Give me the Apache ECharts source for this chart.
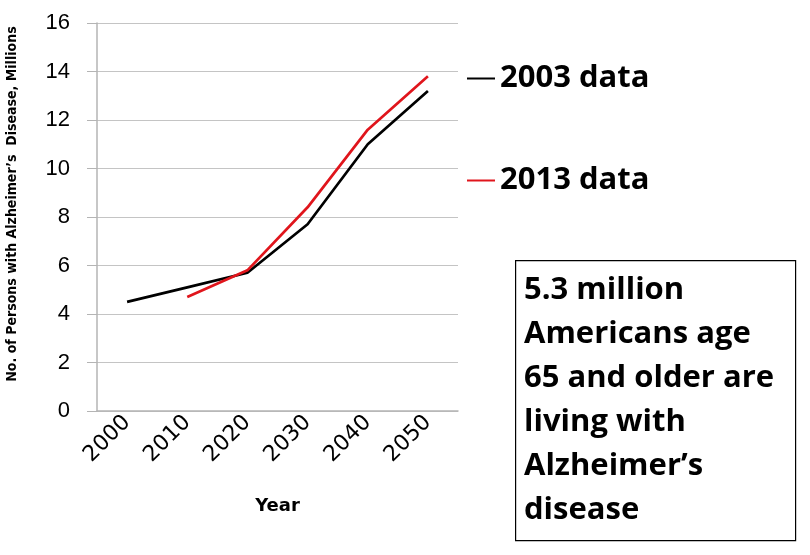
<!DOCTYPE html>
<html><head><meta charset="utf-8">
<script src="https://cdn.jsdelivr.net/npm/echarts@6/dist/echarts.min.js"></script>
<style>html,body{margin:0;padding:0;background:#fff}#c{width:810px;height:555px}</style>
</head><body><div id="c"></div>
<script>
const years = ['2000','2010','2020','2030','2040','2050'];
const data2003 = [4.5, 5.1, 5.7, 7.7, 11.0, 13.2];
const data2013 = [null, 4.7, 5.8, 8.4, 11.6, 13.8];
const yTicks = {min: 0, max: 16, interval: 2};
const boxLines = ['5.3 million', 'Americans age', '65 and older are', 'living with', 'Alzheimer\u2019s', 'disease'];

const chart = echarts.init(document.getElementById('c'));
const legendText = {fontFamily: 'Open Sans', fontWeight: 'bold', fontSize: 31, color: '#000'};
chart.setOption({
  animation: false,
  backgroundColor: '#fff',
  grid: {left: 97, right: 352, top: 23, bottom: 144},
  legend: [
    {data: ['2003 data'], icon: 'rect', left: 462, top: 58, itemWidth: 28, itemHeight: 2, textStyle: legendText},
    {data: ['2013 data'], icon: 'rect', left: 462, top: 160, itemWidth: 28, itemHeight: 2, textStyle: legendText}
  ],
  xAxis: {
    type: 'category', data: years, boundaryGap: true,
    name: 'Year', nameLocation: 'middle', nameGap: 86,
    nameTextStyle: {fontFamily: 'DejaVu Sans', fontWeight: 'bold', fontSize: 18, color: '#000'},
    axisLine: {lineStyle: {color: '#b4b4b4', width: 1.5}},
    axisTick: {show: false},
    axisLabel: {rotate: 45, fontFamily: 'DejaVu Sans', fontSize: 22, color: '#000', margin: 8}
  },
  yAxis: {
    type: 'value', min: yTicks.min, max: yTicks.max, interval: yTicks.interval,
    name: 'No. of Persons with Alzheimer\u2019s  Disease, Millions', nameLocation: 'middle', nameGap: 78,
    nameTextStyle: {fontFamily: 'DejaVu Sans Condensed, Roboto, sans-serif', fontWeight: 'bold', fontSize: 14, color: '#000', padding: [0, 0, 0, 26]},
    axisLine: {show: true, lineStyle: {color: '#b4b4b4', width: 1.5}},
    axisTick: {show: true, length: 10, lineStyle: {color: '#b4b4b4'}},
    splitLine: {lineStyle: {color: '#c4c4c4', width: 1.2}},
    axisLabel: {fontFamily: 'Liberation Sans', fontSize: 22, color: '#000', margin: 27}
  },
  series: [
    {name: '2003 data', type: 'line', data: data2003, symbol: 'none', lineStyle: {color: '#000', width: 2.7}, itemStyle: {color: '#000'}},
    {name: '2013 data', type: 'line', data: data2013, symbol: 'none', lineStyle: {color: '#e0151c', width: 2.7}, itemStyle: {color: '#e0151c'}}
  ],
  graphic: [
    {type: 'rect', left: 515, top: 260, shape: {width: 280, height: 280},
     style: {fill: '#fff', stroke: '#000', lineWidth: 1.2}},
    {type: 'text', left: 524, top: 268,
     style: {text: boxLines.join('\n'), fontFamily: 'Open Sans', fontWeight: 'bold', fontSize: 31, lineHeight: 44, fill: '#000'}}
  ]
});
</script></body></html>
